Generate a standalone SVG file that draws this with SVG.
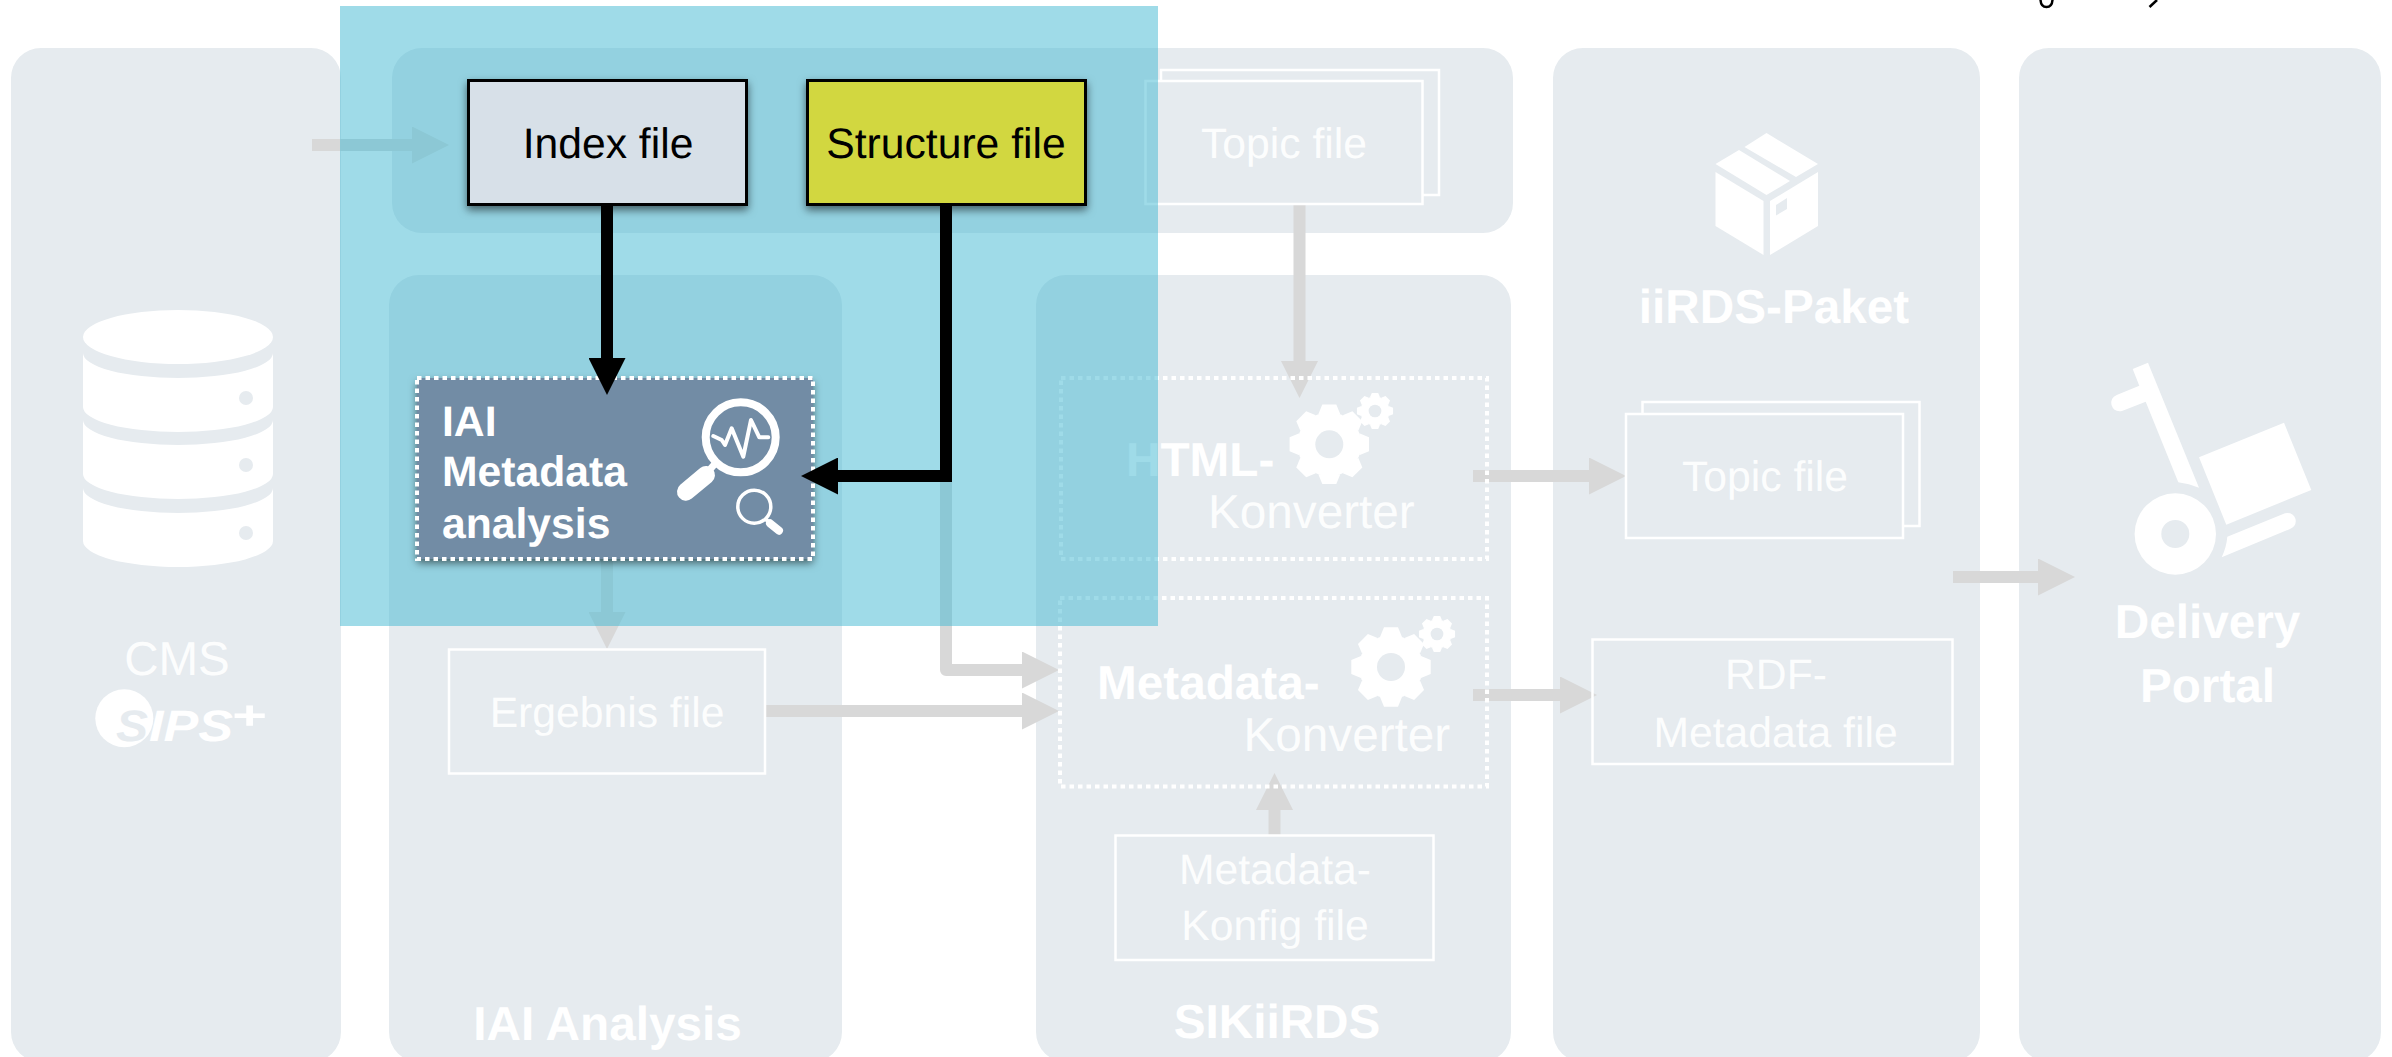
<svg xmlns="http://www.w3.org/2000/svg" xmlns:xlink="http://www.w3.org/1999/xlink" width="2392" height="1057" viewBox="0 0 2392 1057">
<style>
text{font-family:"Liberation Sans",Arial,sans-serif;fill:#fff;font-size:42.67px;text-rendering:geometricPrecision}
.m{text-anchor:middle}
.b{font-weight:700;font-size:47.7px}
.k{font-size:47.7px}
.l{fill-opacity:.92}
.panel{fill:#e6ebef}
.ghost{fill:none;stroke:#fff;stroke-width:2.500}
.dot{fill:none;stroke:#fff;stroke-width:4;stroke-dasharray:4.500 4}
.w{fill:#fff}
.h{fill:#e6ebef}
.g{fill:none;stroke:#d8d8d8;stroke-width:12;marker-end:url(#hg)}
.a{fill:none;stroke:#000;stroke-width:12;marker-end:url(#ha)}
.dk2{fill:#000;text-anchor:middle}
</style>
<defs>
<marker id="hg" markerUnits="userSpaceOnUse" viewBox="0 0 37 37" markerWidth="37" markerHeight="37" refX="0" refY="18.5" orient="auto"><path d="M0,0L37,18.5L0,37z" fill="#d8d8d8"/></marker>
<marker id="ha" markerUnits="userSpaceOnUse" viewBox="0 0 37 37" markerWidth="37" markerHeight="37" refX="0" refY="18.5" orient="auto"><path d="M0,0L37,18.5L0,37z" fill="#000"/></marker>
<filter id="sh" x="-10%" y="-15%" width="120%" height="135%"><feDropShadow dx="0" dy="4" stdDeviation="4" flood-color="#000" flood-opacity=".55"/></filter>
<g id="gear">
<circle r="32" fill="#fff"/>
<g id="t2"><path id="t1" d="M-11,-30L-7,-39.7H7L11,-30z" fill="#fff"/><use xlink:href="#t1" href="#t1" transform="rotate(45)"/></g>
<use xlink:href="#t2" href="#t2" transform="rotate(90)"/>
<use xlink:href="#t2" href="#t2" transform="rotate(180)"/>
<use xlink:href="#t2" href="#t2" transform="rotate(270)"/>
<circle r="14" fill="#e6ebef"/>
</g>
</defs>

<g id="panels">
<rect class="panel" x="11" y="48" width="330" height="1014" rx="30"/>
<rect class="panel" x="392" y="48" width="1121" height="185" rx="30"/>
<rect class="panel" x="389" y="275" width="453" height="787" rx="30"/>
<rect class="panel" x="1036" y="275" width="475" height="787" rx="30"/>
<rect class="panel" x="1553" y="48" width="427" height="1014" rx="30"/>
<rect class="panel" x="2019" y="48" width="362" height="1014" rx="30"/>
</g>

<g id="connectors-muted">
<path class="g" d="M312,145H412"/>
<path class="g" d="M607,555V612"/>
<path class="g" d="M1299.5,205V361"/>
<path class="g" d="M1473,476H1589"/>
<path class="g" stroke-linejoin="round" d="M946,476V670H1022"/>
<path class="g" d="M766,711H1022"/>
<path class="g" d="M1473,695H1560"/>
<path class="g" d="M1274.5,835V810"/>
<path class="g" d="M1953,577H2038"/>
</g>

<g id="cms">
<ellipse class="w" cx="178" cy="337" rx="95" ry="27"/>
<path class="w" d="M83,353A95,25 0 0 0 273,353V407A95,25 0 0 1 83,407z"/>
<path class="w" d="M83,420A95,25 0 0 0 273,420V474A95,25 0 0 1 83,474z"/>
<path class="w" d="M83,488A95,25 0 0 0 273,488V541A95,26 0 0 1 83,541z"/>
<circle class="h" cx="246" cy="398" r="7"/>
<circle class="h" cx="246" cy="465" r="7"/>
<circle class="h" cx="246" cy="533" r="7"/>
<text class="m l" x="177" y="675" style="font-size:47.5px">CMS</text>
<circle class="w" cx="124.300" cy="718.300" r="29"/>
<text x="116" y="741" textLength="32" lengthAdjust="spacingAndGlyphs" style="font-weight:700;font-style:italic;font-size:44px;fill:#e6ebef">S</text>
<text x="149" y="741" textLength="84" lengthAdjust="spacingAndGlyphs" style="font-weight:700;font-style:italic;font-size:44px">IPS</text>
<text x="231" y="729" textLength="35" lengthAdjust="spacingAndGlyphs" style="font-weight:700;font-style:italic;font-size:40px">+</text>
</g>

<g id="topic-file">
<rect class="ghost" x="1161" y="70" width="278" height="125"/>
<rect class="h" x="1146" y="81" width="276" height="123"/>
<rect class="ghost" x="1145.500" y="81" width="277" height="123"/>
<text class="m l" x="1284" y="158">Topic file</text>
</g>

<g id="ergebnis-file">
<rect class="ghost" x="449" y="649.500" width="316" height="124"/>
<text class="m l" x="607" y="727">Ergebnis file</text>
</g>
<g id="iai-analysis-label"><text class="m b" x="607.500" y="1040">IAI Analysis</text></g>

<g id="html-konverter">
<rect class="dot" x="1061" y="378" width="426" height="181"/>
<text class="b" x="1126" y="476">HTML-</text>
<text class="k l" x="1208" y="528">Konverter</text>
<use xlink:href="#gear" href="#gear" transform="translate(1329.300 444.300)"/>
<use xlink:href="#gear" href="#gear" transform="translate(1375 411) scale(.455)"/>
</g>

<g id="metadata-konverter">
<rect class="dot" x="1060" y="598" width="427" height="188.500"/>
<text class="b" x="1097" y="699">Metadata-</text>
<text class="k l" x="1243.500" y="751">Konverter</text>
<use xlink:href="#gear" href="#gear" transform="translate(1391 667)"/>
<use xlink:href="#gear" href="#gear" transform="translate(1437 634) scale(.455)"/>
</g>

<g id="metadata-konfig-file">
<rect class="ghost" x="1115.500" y="835.500" width="318" height="124.500"/>
<text class="m l" x="1275" y="884">Metadata-</text>
<text class="m l" x="1275" y="940">Konfig file</text>
</g>
<g id="sikiirds-label"><text class="m b" x="1277" y="1038">SIKiiRDS</text></g>

<g id="iirds-paket">
<path class="w" d="M1766.500,133L1818,164L1796,177L1744.500,147z"/>
<path class="w" d="M1739,150L1790,181L1766.500,195L1715.500,164z"/>
<path class="w" d="M1715.500,172L1763.500,201V255L1715.500,226z"/>
<path class="w" d="M1818,172L1770,201V255L1818,226z"/>
<path class="h" d="M1776,205L1787,198V209L1776,215.500z"/>
<text class="m b" x="1774" y="322.500">iiRDS-Paket</text>
</g>

<g id="topic-file-2">
<rect class="ghost" x="1642.500" y="402" width="277" height="124"/>
<rect class="h" x="1626" y="414" width="277" height="124"/>
<rect class="ghost" x="1626" y="414" width="277" height="124"/>
<text class="m l" x="1765" y="491">Topic file</text>
</g>

<g id="rdf-metadata-file">
<rect class="ghost" x="1592.500" y="639.500" width="360" height="124.500"/>
<text class="m l" x="1776" y="689">RDF-</text>
<text class="m l" x="1775.500" y="746.500">Metadata file</text>
</g>

<g id="delivery-portal">
<path class="w" d="M2148,362.700L2199,487.700Q2189,483.500 2178.300,482.300L2145.700,401.700L2122,411Q2114,412.500 2111.500,405Q2110,398 2116.700,395L2139.300,385.700L2132.700,369z"/>
<path class="w" d="M2284,422.700L2311.300,490L2226.300,524.700L2199,457.300z"/>
<path class="w" fill-rule="evenodd" d="M2134.600,534a40.700,40.700 0 1 0 81.400,0a40.700,40.700 0 1 0 -81.400,0zM2161.300,534a14,14 0 1 1 28,0a14,14 0 1 1 -28,0z"/>
<path class="w" d="M2227.300,536.700L2285,513.300Q2293,512 2295.500,519Q2297,526 2290,529L2221.700,557.300Q2226.500,547 2227.300,536.700z"/>
<text class="m b" x="2207.500" y="638">Delivery</text>
<text class="m b" x="2207.500" y="702">Portal</text>
</g>

<g id="clipped-marks">
<path d="M2040.500,0Q2041,7 2046.500,7Q2052,7 2052.500,0" fill="none" stroke="#000" stroke-width="2.500"/>
<path d="M2157,0L2149.500,7" fill="none" stroke="#000" stroke-width="2.500"/>
</g>

<rect id="highlight" x="340" y="6" width="818" height="620" fill="#3fb7d1" fill-opacity=".5"/>

<g id="index-file">
<rect x="468.500" y="80.500" width="278" height="124" fill="#d7e0e8" stroke="#000" stroke-width="3" filter="url(#sh)"/>
<text class="dk2" x="608" y="158">Index file</text>
</g>
<g id="structure-file">
<rect x="807.500" y="80.500" width="278" height="124" fill="#d2d73f" stroke="#000" stroke-width="3" filter="url(#sh)"/>
<text class="dk2" x="946" y="158">Structure file</text>
</g>

<g id="iai-metadata-analysis">
<rect x="417" y="378" width="396" height="181" fill="#728ca5" filter="url(#sh)"/>
<rect class="dot" x="417" y="378" width="396" height="181"/>
<text class="b" style="font-size:42.67px" x="442" y="436">IAI</text>
<text class="b" style="font-size:42.67px" x="442" y="486">Metadata</text>
<text class="b" style="font-size:42.67px" x="442" y="538">analysis</text>
<circle cx="740.700" cy="437.300" r="35" fill="none" stroke="#fff" stroke-width="8"/>
<path d="M716.700,461.700L708,471.700" fill="none" stroke="#fff" stroke-width="7"/>
<path d="M706,475L686,491.700" fill="none" stroke="#fff" stroke-width="18" stroke-linecap="round"/>
<path d="M713.300,436L721.700,440L725,445L731.700,428.300L743.300,456.700L751,420L759.300,437.300H768.300" fill="none" stroke="#fff" stroke-width="4" stroke-linecap="round" stroke-linejoin="round"/>
<circle cx="754.300" cy="506.700" r="16.500" fill="none" stroke="#fff" stroke-width="3.500"/>
<path d="M766,519.300L770,523.300" fill="none" stroke="#fff" stroke-width="4"/>
<path d="M770,523.300L779,530.700" fill="none" stroke="#fff" stroke-width="8" stroke-linecap="round"/>
</g>

<g id="connectors">
<path class="a" d="M607,205V358"/>
<path class="a" d="M946,205V476H838"/>
</g>
</svg>
